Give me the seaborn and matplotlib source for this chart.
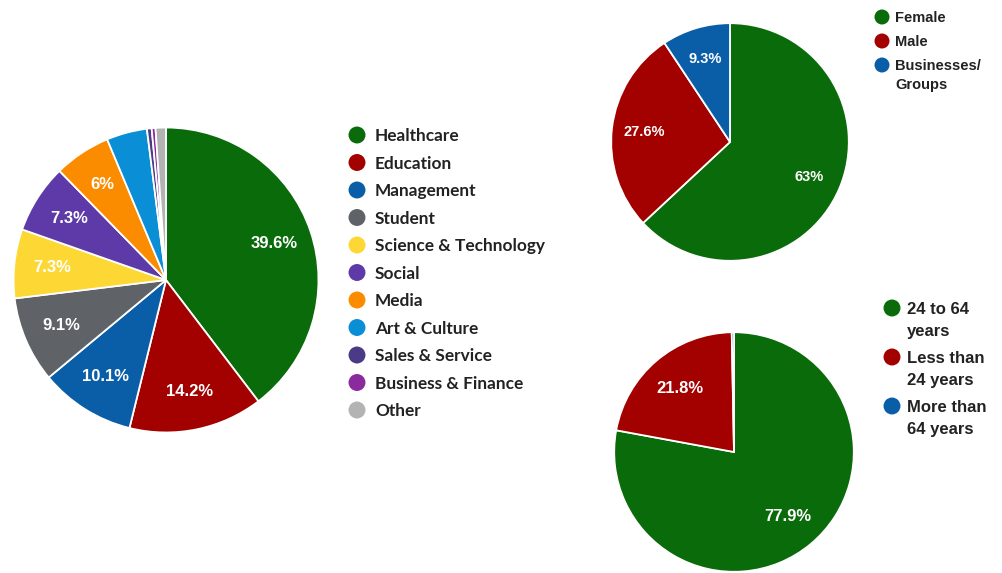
import matplotlib
matplotlib.use("Agg")
import matplotlib.pyplot as plt
import seaborn as sns

# Dati: settori professionali
sector_labels = ["Healthcare", "Education", "Management", "Student", "Science & Technology",
                 "Social", "Media", "Art & Culture", "Sales & Service", "Business & Finance", "Other"]
sector_values = [39.6, 14.2, 10.1, 9.1, 7.3, 7.3, 6.0, 4.3, 0.5, 0.4, 1.1]
sector_colors = ["#0a6b0a", "#a30000", "#0a5ea8", "#5f6368", "#fdd835", "#5e3aa8",
                 "#fb8c00", "#0a8fd6", "#4b3a86", "#8a2a9e", "#b3b3b3"]

# Dati: genere
gender_labels = ["Female", "Male", "Businesses/\nGroups"]
gender_values = [63.0, 27.6, 9.3]
gender_colors = ["#0a6b0a", "#a30000", "#0a5ea8"]

# Dati: età
age_labels = ["24 to 64\nyears", "Less than\n24 years", "More than\n64 years"]
age_values = [77.9, 21.8, 0.3]
age_colors = ["#0a6b0a", "#a30000", "#0a5ea8"]

sns.set_theme(style="white")
plt.rcParams["font.family"] = ["Liberation Sans", "DejaVu Sans"]

W, H = 1002, 573
fig = plt.figure(figsize=(W / 100, H / 100), dpi=100)

# asse di sfondo in pixel per le legende
lax = fig.add_axes([0, 0, 1, 1])
lax.set_xlim(0, W)
lax.set_ylim(H, 0)
lax.axis("off")


def pie_axes(cx, cy, r):
    # asse quadrato in pixel centrato su (cx, cy) con raggio r
    return fig.add_axes([(cx - r) / W, (H - cy - r) / H, 2 * r / W, 2 * r / H])


def fmt_pct(v, min_show):
    if v < min_show:
        return ""
    return f"{v:g}%"


def draw_pie(ax, values, colors, size, dist, min_show=5):
    total = sum(values)
    ax.pie(values, colors=colors, startangle=90, counterclock=False,
           autopct=lambda p: fmt_pct(round(p * total / 100, 1), min_show),
           pctdistance=dist, radius=1.0,
           wedgeprops=dict(edgecolor="white", linewidth=1.3),
           textprops=dict(color="white", fontweight="bold", fontsize=size))
    ax.set_xlim(-1.01, 1.01)
    ax.set_ylim(-1.01, 1.01)


def add_legend(labels, colors, mx, tx, y0, row_step, line_step, size, family, msize):
    # legenda manuale: pallino allineato alla prima riga del testo
    em = size * 100 / 72
    y = y0
    for lab, c in zip(labels, colors):
        lines = lab.split("\n")
        lax.scatter([mx], [y], s=msize ** 2, color=c, edgecolor="none")
        for k, line in enumerate(lines):
            lax.text(tx, y + k * line_step + 0.36 * em, line, family=family,
                     fontweight="bold", fontsize=size, color="#222222", va="baseline")
        y += (len(lines) - 1) * line_step + row_step


# 1. Settori
ax1 = pie_axes(166, 280, 154)
draw_pie(ax1, sector_values, sector_colors, 12, 0.75)
add_legend(sector_labels, sector_colors, 357, 375, 135, 27.5, 0, 12.4, "Lato", 12.2)

# 2. Genere
ax2 = pie_axes(730, 142, 120)
draw_pie(ax2, gender_values, gender_colors, 10.5, 0.73)
add_legend(gender_labels, gender_colors, 882, 895, 17, 24, 18.5, 10.5, "Liberation Sans", 10.8)

# 3. Età
ax3 = pie_axes(734, 452, 121)
draw_pie(ax3, age_values, age_colors, 12, 0.70)
add_legend(age_labels, age_colors, 892, 907, 308, 27, 22, 12, "Liberation Sans", 12.2)

fig.savefig("out.png", dpi=100)
